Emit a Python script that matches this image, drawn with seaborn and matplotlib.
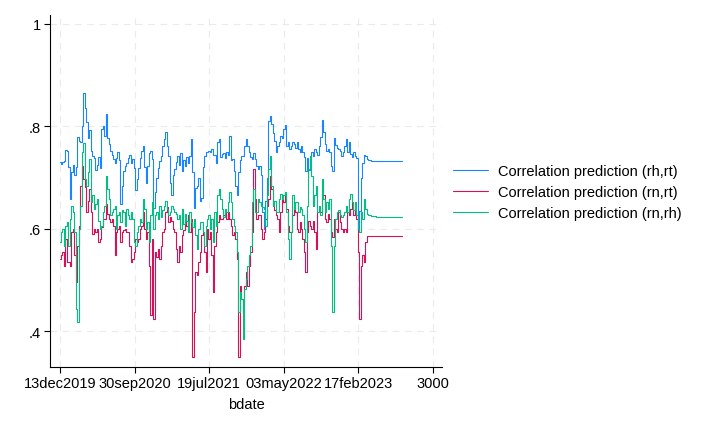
import numpy as np
import pandas as pd
import matplotlib
matplotlib.use("Agg")
import matplotlib.pyplot as plt
import seaborn as sns

# ---------------- data ----------------
# business-date axis (Stata bdate numbers), one sample every 4 business days
bdate = np.arange(2000, 2832, 4)
fc_bdate = [2840, 2855, 2917]          # forecast horizon (flat tail)

series_names = ["Correlation prediction (rh,rt)",
                "Correlation prediction (rn,rt)",
                "Correlation prediction (rn,rh)"]

rh_rt = [
    0.730, 0.727, 0.730, 0.733, 0.753, 0.751, 0.720, 0.658, 0.710, 0.725,
    0.706, 0.720, 0.780, 0.772, 0.770, 0.800, 0.865, 0.835, 0.808, 0.778,
    0.792, 0.752, 0.743, 0.738, 0.715, 0.725, 0.740, 0.718, 0.795, 0.800,
    0.782, 0.824, 0.778, 0.765, 0.752, 0.745, 0.736, 0.728, 0.738, 0.750,
    0.734, 0.648, 0.684, 0.712, 0.722, 0.728, 0.738, 0.745, 0.728, 0.736,
    0.718, 0.676, 0.697, 0.718, 0.738, 0.752, 0.762, 0.720, 0.690, 0.722,
    0.748, 0.752, 0.736, 0.640, 0.672, 0.700, 0.718, 0.733, 0.742, 0.762,
    0.775, 0.790, 0.762, 0.742, 0.690, 0.665, 0.705, 0.716, 0.730, 0.742,
    0.725, 0.748, 0.712, 0.735, 0.722, 0.740, 0.728, 0.742, 0.775, 0.710,
    0.640, 0.680, 0.684, 0.700, 0.655, 0.660, 0.720, 0.742, 0.749, 0.750,
    0.752, 0.749, 0.756, 0.744, 0.745, 0.728, 0.770, 0.775, 0.740, 0.746,
    0.748, 0.738, 0.750, 0.745, 0.782, 0.735, 0.736, 0.712, 0.684, 0.665,
    0.710, 0.734, 0.742, 0.743, 0.762, 0.775, 0.762, 0.750, 0.740, 0.736,
    0.748, 0.736, 0.723, 0.717, 0.723, 0.705, 0.632, 0.600, 0.655, 0.700,
    0.810, 0.821, 0.804, 0.788, 0.772, 0.749, 0.762, 0.769, 0.782, 0.778,
    0.795, 0.802, 0.762, 0.769, 0.756, 0.762, 0.769, 0.766, 0.758, 0.769,
    0.756, 0.749, 0.762, 0.749, 0.740, 0.712, 0.738, 0.715, 0.736, 0.749,
    0.743, 0.755, 0.749, 0.745, 0.762, 0.780, 0.812, 0.790, 0.766, 0.752,
    0.756, 0.749, 0.723, 0.712, 0.778, 0.764, 0.757, 0.756, 0.752, 0.743,
    0.749, 0.762, 0.775, 0.749, 0.770, 0.746, 0.740, 0.750, 0.743, 0.738,
    0.600, 0.635, 0.700, 0.728, 0.745, 0.742, 0.737, 0.734,
]
rn_rt = [
    0.541, 0.548, 0.554, 0.528, 0.580, 0.535, 0.535, 0.528, 0.593, 0.600,
    0.548, 0.496, 0.567, 0.606, 0.684, 0.722, 0.697, 0.681, 0.632, 0.655,
    0.678, 0.632, 0.590, 0.600, 0.593, 0.600, 0.574, 0.580, 0.603, 0.619,
    0.619, 0.649, 0.629, 0.619, 0.613, 0.619, 0.606, 0.548, 0.593, 0.600,
    0.606, 0.574, 0.593, 0.597, 0.600, 0.593, 0.593, 0.567, 0.535, 0.541,
    0.554, 0.580, 0.574, 0.580, 0.600, 0.606, 0.632, 0.600, 0.580, 0.593,
    0.528, 0.431, 0.580, 0.424, 0.554, 0.544, 0.561, 0.541, 0.567, 0.593,
    0.600, 0.632, 0.642, 0.613, 0.623, 0.616, 0.600, 0.593, 0.561, 0.535,
    0.567, 0.554, 0.587, 0.597, 0.616, 0.606, 0.626, 0.593, 0.619, 0.349,
    0.437, 0.515, 0.509, 0.535, 0.554, 0.587, 0.593, 0.554, 0.515, 0.600,
    0.580, 0.593, 0.548, 0.476, 0.567, 0.593, 0.613, 0.626, 0.619, 0.619,
    0.626, 0.632, 0.619, 0.632, 0.619, 0.606, 0.587, 0.593, 0.580, 0.541,
    0.349, 0.489, 0.463, 0.450, 0.489, 0.515, 0.489, 0.528, 0.554, 0.593,
    0.717, 0.658, 0.619, 0.626, 0.626, 0.600, 0.580, 0.593, 0.619, 0.645,
    0.658, 0.704, 0.678, 0.645, 0.636, 0.626, 0.619, 0.593, 0.632, 0.658,
    0.652, 0.665, 0.639, 0.606, 0.593, 0.593, 0.626, 0.645, 0.632, 0.600,
    0.593, 0.613, 0.600, 0.580, 0.554, 0.515, 0.593, 0.616, 0.606, 0.600,
    0.616, 0.593, 0.561, 0.632, 0.639, 0.632, 0.658, 0.665, 0.619, 0.613,
    0.629, 0.619, 0.593, 0.584, 0.619, 0.600, 0.593, 0.632, 0.613, 0.600,
    0.593, 0.600, 0.593, 0.632, 0.626, 0.639, 0.652, 0.626, 0.639, 0.619,
    0.554, 0.424, 0.528, 0.548, 0.535, 0.574, 0.585, 0.585,
]
rn_rh = [
    0.574, 0.593, 0.600, 0.567, 0.606, 0.613, 0.567, 0.619, 0.645, 0.632,
    0.593, 0.444, 0.418, 0.600, 0.645, 0.749, 0.768, 0.697, 0.684, 0.710,
    0.736, 0.652, 0.665, 0.639, 0.649, 0.658, 0.616, 0.600, 0.606, 0.632,
    0.645, 0.704, 0.678, 0.658, 0.626, 0.632, 0.639, 0.645, 0.600, 0.626,
    0.632, 0.613, 0.636, 0.632, 0.606, 0.639, 0.626, 0.619, 0.632, 0.619,
    0.574, 0.567, 0.593, 0.606, 0.619, 0.613, 0.658, 0.639, 0.600, 0.613,
    0.574, 0.626, 0.652, 0.600, 0.626, 0.632, 0.619, 0.645, 0.623, 0.636,
    0.645, 0.655, 0.639, 0.626, 0.632, 0.645, 0.639, 0.632, 0.629, 0.619,
    0.626, 0.600, 0.639, 0.610, 0.629, 0.616, 0.593, 0.632, 0.613, 0.603,
    0.619, 0.587, 0.561, 0.600, 0.613, 0.613, 0.593, 0.567, 0.606, 0.619,
    0.626, 0.600, 0.619, 0.574, 0.632, 0.606, 0.665, 0.678, 0.658, 0.639,
    0.623, 0.639, 0.632, 0.652, 0.671, 0.652, 0.619, 0.606, 0.593, 0.554,
    0.437, 0.476, 0.463, 0.385, 0.483, 0.502, 0.528, 0.548, 0.567, 0.652,
    0.678, 0.632, 0.632, 0.658, 0.652, 0.645, 0.642, 0.639, 0.606, 0.665,
    0.717, 0.743, 0.684, 0.645, 0.655, 0.632, 0.632, 0.658, 0.668, 0.658,
    0.665, 0.671, 0.632, 0.580, 0.541, 0.593, 0.665, 0.639, 0.652, 0.652,
    0.632, 0.642, 0.639, 0.626, 0.600, 0.574, 0.645, 0.717, 0.743, 0.704,
    0.645, 0.665, 0.684, 0.632, 0.645, 0.626, 0.697, 0.658, 0.632, 0.652,
    0.639, 0.658, 0.567, 0.437, 0.567, 0.619, 0.632, 0.636, 0.626, 0.623,
    0.626, 0.632, 0.645, 0.632, 0.658, 0.668, 0.652, 0.636, 0.652, 0.626,
    0.600, 0.593, 0.632, 0.619, 0.658, 0.639, 0.629, 0.626,
]
fc_rh_rt = [0.733, 0.733, 0.733]
fc_rn_rt = [0.585, 0.586, 0.586]
fc_rn_rh = [0.624, 0.623, 0.623]

xtick_vals = [2000, 2200, 2400, 2600, 2800, 3000]
xtick_labels = ["13dec2019", "30sep2020", "19jul2021", "03may2022", "17feb2023", "3000"]
ytick_vals = [0.4, 0.6, 0.8, 1.0]
ytick_labels = [".4", ".6", ".8", "1"]

colors = ["#1a85ff", "#d41159", "#00bf7f"]

# ---------------- plot ----------------
sns.set_theme(style="white")
plt.rcParams["font.family"] = ["Liberation Sans", "DejaVu Sans"]
plt.rcParams["text.color"] = "black"

fig = plt.figure(figsize=(7.18, 4.31), dpi=100)
ax = fig.add_axes([0.0696, 0.1462, 0.546, 0.8167])

x_all = np.concatenate([bdate, fc_bdate])
for name, vals, fc, col in zip(series_names,
                               [rh_rt, rn_rt, rn_rh],
                               [fc_rh_rt, fc_rn_rt, fc_rn_rh],
                               colors):
    y_all = np.concatenate([vals, fc])
    sns.lineplot(x=x_all, y=y_all, ax=ax, color=col, lw=0.8,
                 drawstyle="steps-mid", errorbar=None, label=name,
                 legend=False)

ax.set_xlim(1973, 3024)
ax.set_ylim(0.330, 1.0176)
ax.set_xticks(xtick_vals)
ax.set_xticklabels(xtick_labels)
ax.set_yticks(ytick_vals)
ax.set_yticklabels(ytick_labels)

ax.grid(True, color="#ebebeb", linestyle=(0, (6, 5)), lw=0.8)
ax.set_axisbelow(True)
for s in ["top", "right"]:
    ax.spines[s].set_visible(False)
for s in ["left", "bottom"]:
    ax.spines[s].set_color("black")
    ax.spines[s].set_linewidth(0.8)

ax.tick_params(bottom=True, left=True, direction="out", length=4.5,
               width=0.8, color="black", labelsize=10.5, pad=2,
               labelcolor="black")
ax.set_xlabel("bdate", fontsize=10.5, color="black", labelpad=5)
ax.set_ylabel("")

handles, labels = ax.get_legend_handles_labels()
fig.legend(handles, labels, loc="center left",
           bbox_to_anchor=(453 / 718, 1 - 193 / 431), frameon=False,
           fontsize=10.5, handlelength=2.4, handletextpad=0.7,
           labelspacing=0.5, borderpad=0, borderaxespad=0,
           labelcolor="black")

fig.savefig("out.png", dpi=100)
